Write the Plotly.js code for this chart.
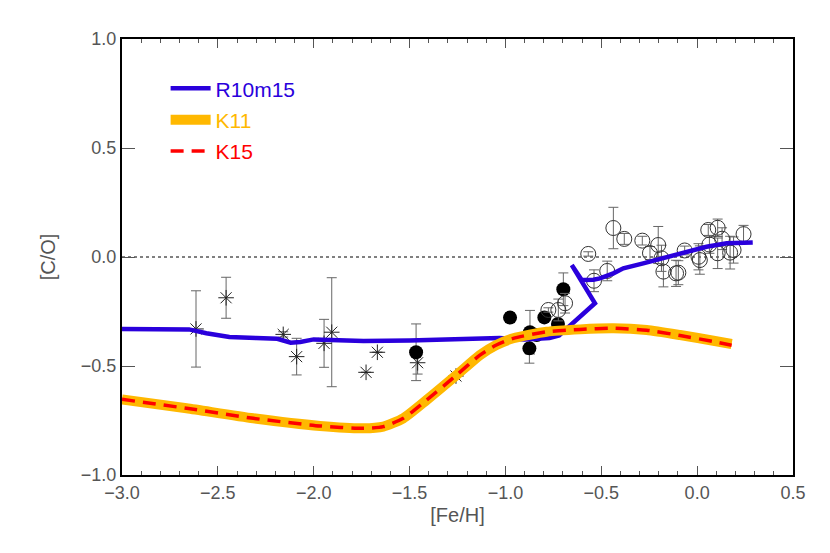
<!DOCTYPE html>
<html>
<head>
<meta charset="utf-8">
<script src="https://cdn.plot.ly/plotly-3.0.1.min.js"></script>
<style>
  body { margin: 0; background: #fff; }
  #plot { width: 830px; height: 553px; }
</style>
</head>
<body>
<div id="plot"></div>
<script>
// model curves
let r10X = [-3.0, -2.65, -2.56, -2.44, -2.3, -2.19, -2.12, -2.07, -2.0, -1.85, -1.74, -1.5, -1.39, -1.2, -1.03, -0.9, -0.77, -0.72, -0.698, -0.533, -0.654, -0.602, -0.541, -0.507, -0.437, -0.385, -0.281, -0.159, -0.055, 0.049, 0.154, 0.29];
let r10Y = [-0.33, -0.332, -0.35, -0.367, -0.372, -0.375, -0.393, -0.39, -0.378, -0.38, -0.385, -0.383, -0.381, -0.378, -0.372, -0.378, -0.372, -0.36, -0.343, -0.212, -0.037, -0.105, -0.104, -0.098, -0.075, -0.052, -0.029, 0.001, 0.024, 0.047, 0.063, 0.067];

let k11X = [-3.0, -2.663, -2.315, -1.967, -1.741, -1.637, -1.533, -1.411, -1.254, -1.133, -1.05, -0.959, -0.785, -0.611, -0.437, -0.263, -0.089, 0.085, 0.18];
let k11Y = [-0.653, -0.694, -0.74, -0.775, -0.786, -0.778, -0.74, -0.656, -0.541, -0.45, -0.405, -0.373, -0.343, -0.332, -0.327, -0.335, -0.358, -0.384, -0.399];

let k15X = k11X;
let k15Y = [-0.653, -0.694, -0.74, -0.775, -0.786, -0.778, -0.74, -0.656, -0.541, -0.45, -0.405, -0.373, -0.343, -0.332, -0.327, -0.336, -0.36, -0.388, -0.405];

// halo stars (asterisks)
let astX = [-2.614, -2.457, -2.159, -2.089, -1.946, -1.906, -1.727, -1.668, -1.458, -1.258];
let astY = [-0.33, -0.187, -0.355, -0.457, -0.396, -0.345, -0.529, -0.437, -0.485, -0.546];
let astErr = [0.175, 0.094, 0.012, 0.084, 0.11, 0.25, null, null, 0.052, null];

// thick disc stars (filled circles)
let fillX = [-1.466, -0.976, -0.872, -0.837, -0.875, -0.797, -0.726, -0.698];
let fillY = [-0.437, -0.278, -0.345, -0.358, -0.419, -0.277, -0.307, -0.148];
let fillErr = [0.13, 0.023, 0.1, null, 0.068, null, null, 0.075];

// thin disc stars (open circles)
let openX = [-0.776, -0.724, -0.689, -0.568, -0.538, -0.469, -0.437, -0.38, -0.286, -0.203, -0.246, -0.186, -0.176, -0.11, -0.098, -0.065, 0.007, 0.014, 0.058, 0.064, 0.107, 0.107, 0.13, 0.172, 0.19, 0.242];
let openY = [-0.243, -0.243, -0.212, 0.014, -0.109, -0.064, 0.133, 0.083, 0.075, 0.055, 0.018, -0.006, -0.067, -0.075, -0.072, 0.03, 0.001, -0.014, 0.124, 0.057, 0.134, 0.017, 0.084, 0.02, 0.032, 0.105];
let openErr = [0.01, 0.05, 0.045, 0.01, 0.05, 0.045, 0.095, 0.025, 0.02, 0.085, 0.03, 0.06, 0.07, 0.06, 0.055, 0.02, 0.06, 0.065, 0.025, 0.04, 0.04, 0.07, 0.05, 0.075, 0.06, 0.04];

let errStyle = function(arr) {
    return {type: 'data', array: arr, visible: true, color: '#666', thickness: 1, width: 5};
};

let traceR10 = {
    x: r10X, y: r10Y, mode: 'lines', type: 'scatter',
    name: '<span style="color:#2a00dc">R10m15</span>',
    legendgroup: 'a',
    line: {color: '#2a00dc', width: 4.5}
};
let traceK11 = {
    x: k11X, y: k11Y, mode: 'lines', type: 'scatter',
    name: '<span style="color:#ffb800">K11</span>',
    legendgroup: 'b',
    line: {color: '#ffb800', width: 10, shape: 'spline', smoothing: 0.6}
};
let traceK15 = {
    x: k15X, y: k15Y, mode: 'lines', type: 'scatter',
    name: '<span style="color:#ff0000">K15</span>',
    legendgroup: 'c',
    line: {color: '#ff0000', width: 3.5, dash: '13px,8px', shape: 'spline', smoothing: 0.6}
};

let traceAst = {
    x: astX, y: astY, mode: 'markers', type: 'scatter', showlegend: false,
    error_y: errStyle(astErr),
    marker: {symbol: 'asterisk-open', size: 13, color: '#222', line: {color: '#222', width: 1}}
};
let traceFill = {
    x: fillX, y: fillY, mode: 'markers', type: 'scatter', showlegend: false,
    error_y: errStyle(fillErr),
    marker: {symbol: 'circle', size: 14, color: '#000'}
};
let traceOpen = {
    x: openX, y: openY, mode: 'markers', type: 'scatter', showlegend: false,
    error_y: errStyle(openErr),
    marker: {symbol: 'circle-open', size: 15, color: '#333', line: {color: '#333', width: 1}}
};

let data = [traceAst, traceFill, traceOpen, traceR10, traceK11, traceK15];

let tickFont = {family: 'Liberation Sans, sans-serif', size: 18, color: '#555'};
let titleFont = {family: 'Liberation Sans, sans-serif', size: 20, color: '#555'};

let layout = {
    width: 830,
    height: 553,
    margin: {l: 122, r: 37, t: 39, b: 78},
    paper_bgcolor: '#fff',
    plot_bgcolor: '#fff',
    showlegend: true,
    hovermode: false,
    legend: {
        x: 0.065, y: 0.933, xanchor: 'left', yanchor: 'top',
        bgcolor: 'rgba(0,0,0,0)',
        font: {family: 'Liberation Sans, sans-serif', size: 21},
        traceorder: 'grouped',
        tracegroupgap: 1,
        itemwidth: 40
    },
    xaxis: {
        range: [-3.0, 0.5],
        dtick: 0.5,
        tickformat: '.1f',
        ticks: 'inside', ticklen: 9, tickcolor: '#555', tickwidth: 1,
        minor: {dtick: 0.1, ticks: 'inside', ticklen: 4, tickcolor: '#555'},
        showline: true, linecolor: '#000', linewidth: 2, mirror: 'allticks',
        showgrid: false, zeroline: false,
        tickfont: tickFont,
        title: {text: '[Fe/H]', font: titleFont, standoff: 6}
    },
    yaxis: {
        range: [-1.0, 1.0],
        dtick: 0.5,
        tickformat: '.1f',
        ticks: 'inside', ticklen: 13, tickcolor: '#555', tickwidth: 1,
        showline: true, linecolor: '#000', linewidth: 2, mirror: 'allticks',
        showgrid: false, zeroline: false,
        tickfont: tickFont,
        title: {text: '[C/O]', font: titleFont, standoff: 20}
    },
    shapes: [
        {type: 'line', xref: 'paper', x0: 0, x1: 1, yref: 'y', y0: 0, y1: 0,
         line: {color: '#000', width: 1, dash: 'dot'}, layer: 'below'}
    ]
};

Plotly.newPlot('plot', data, layout, {displayModeBar: false, staticPlot: true});
</script>
</body>
</html>
